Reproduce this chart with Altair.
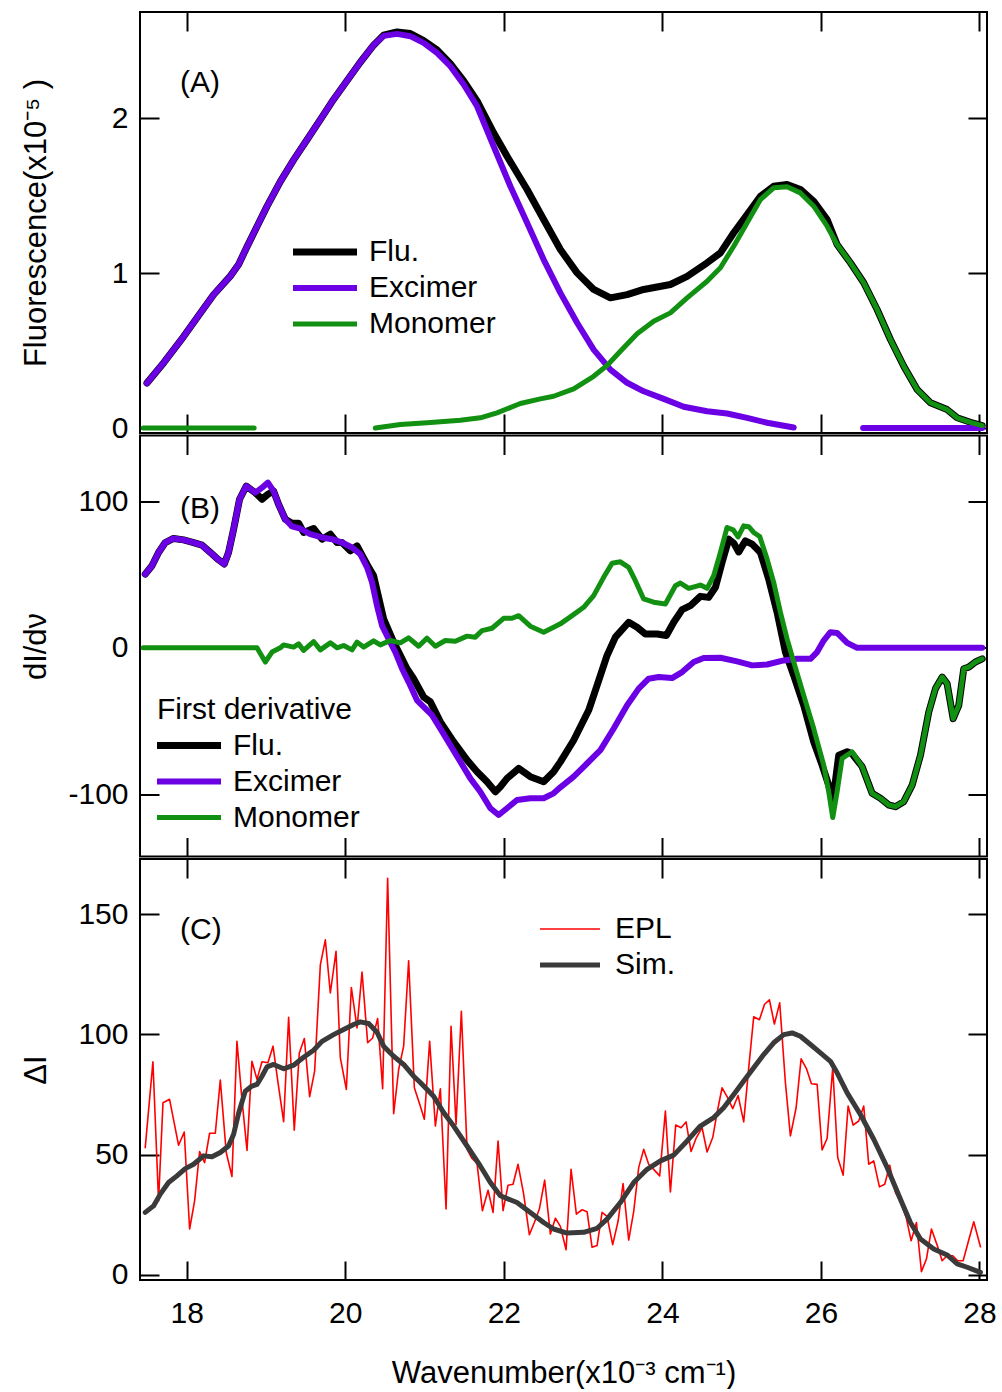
import altair as alt
import pandas as pd

FONT = "Liberation Sans"
X_TICKS = [18, 20, 22, 24, 26, 28]
X_DOMAIN = [17.41, 28.095]
PURPLE = "#6c00e4"
GREEN = "#119011"
SIM = "#3a3a3a"

# ---------------- Panel A : fluorescence ----------------
A_EXC_X = [17.498, 17.707, 17.960, 18.170, 18.338, 18.549, 18.654, 18.760, 18.886, 19.012, 19.180, 19.348,
           19.517, 19.685, 19.852, 20.021, 20.189, 20.357, 20.483, 20.652, 20.820, 20.988, 21.157, 21.325,
           21.493, 21.662, 21.871, 22.082, 22.293, 22.502, 22.713, 22.924, 23.133, 23.344, 23.555, 23.764,
           24.017, 24.269, 24.564, 24.816, 25.069, 25.321, 25.657]
A_EXC_Y = [0.29, 0.42, 0.59, 0.74, 0.86, 0.98, 1.055, 1.17, 1.30, 1.43, 1.59, 1.73,
           1.86, 1.99, 2.12, 2.24, 2.36, 2.47, 2.53, 2.543, 2.528, 2.485, 2.42, 2.334,
           2.216, 2.076, 1.818, 1.56, 1.324, 1.087, 0.872, 0.679, 0.506, 0.377, 0.292, 0.237,
           0.188, 0.137, 0.108, 0.094, 0.066, 0.034, 0.003]
A_EXC_TAIL_X = [26.532, 27.3, 28.034]
A_EXC_TAIL_Y = [0.0, 0.0, 0.0]

A_FLU_X = [17.498, 17.707, 17.960, 18.170, 18.338, 18.549, 18.654, 18.760, 18.886, 19.012, 19.180, 19.348,
           19.517, 19.685, 19.852, 20.021, 20.189, 20.357, 20.483, 20.652, 20.820, 20.988, 21.157, 21.325,
           21.493, 21.662, 21.871, 22.040, 22.293, 22.502, 22.713, 22.924, 23.133, 23.344, 23.555, 23.764,
           24.101, 24.312, 24.564, 24.732, 24.900, 25.069, 25.237, 25.404, 25.573, 25.741, 25.909, 26.078,
           26.204, 26.372, 26.540, 26.709, 26.877, 27.045, 27.214, 27.382, 27.592, 27.719, 27.886, 28.034]
A_FLU_Y = [0.29, 0.42, 0.59, 0.74, 0.86, 0.98, 1.055, 1.17, 1.30, 1.43, 1.59, 1.73,
           1.86, 1.99, 2.12, 2.24, 2.36, 2.47, 2.535, 2.555, 2.545, 2.50, 2.44, 2.35,
           2.24, 2.11, 1.905, 1.754, 1.539, 1.345, 1.152, 1.001, 0.894, 0.840, 0.861, 0.894,
           0.926, 0.979, 1.066, 1.130, 1.260, 1.377, 1.495, 1.560, 1.571, 1.539, 1.463, 1.345,
           1.184, 1.066, 0.937, 0.765, 0.571, 0.399, 0.248, 0.163, 0.119, 0.066, 0.037, 0.016]

A_MON_HEAD_X = [17.45, 18.2, 18.85]
A_MON_HEAD_Y = [0.0, 0.0, 0.0]
A_MON_X = [20.379, 20.694, 21.031, 21.451, 21.703, 21.914, 22.208, 22.461, 22.628, 22.881, 23.133, 23.302,
           23.470, 23.681, 23.890, 24.101, 24.312, 24.564, 24.732, 24.900, 25.069, 25.237, 25.404, 25.573,
           25.741, 25.909, 26.078, 26.204, 26.372, 26.540, 26.709, 26.877, 27.045, 27.214, 27.382, 27.592,
           27.719, 27.886, 28.034]
A_MON_Y = [0.0, 0.023, 0.034, 0.050, 0.066, 0.098, 0.158, 0.188, 0.205, 0.253, 0.334, 0.403,
           0.495, 0.608, 0.689, 0.743, 0.840, 0.947, 1.034, 1.173, 1.324, 1.474, 1.550, 1.556,
           1.517, 1.431, 1.302, 1.184, 1.066, 0.937, 0.765, 0.571, 0.399, 0.248, 0.163, 0.119,
           0.066, 0.037, 0.016]

# ---------------- Panel B : first derivative ----------------
B_EXC_X = [17.476, 17.561, 17.644, 17.729, 17.833, 17.960, 18.086, 18.192, 18.297, 18.401, 18.473, 18.527,
           18.591, 18.666, 18.751, 18.864, 18.949, 19.024, 19.095, 19.158, 19.243, 19.327, 19.432, 19.558,
           19.706, 19.832, 19.958, 20.085, 20.189, 20.274, 20.337, 20.400, 20.463, 20.546, 20.631, 20.716,
           20.799, 20.905, 20.988, 21.094, 21.199, 21.325, 21.451, 21.577, 21.703, 21.830, 21.934, 22.040,
           22.166, 22.334, 22.502, 22.628, 22.713, 22.881, 23.049, 23.218, 23.386, 23.555, 23.701, 23.827,
           23.953, 24.122, 24.249, 24.395, 24.521, 24.732, 24.942, 25.132, 25.321, 25.531, 25.700, 25.868,
           25.952, 26.035, 26.120, 26.204, 26.331, 26.457, 27.2, 28.034]
B_EXC_Y = [50.4, 56.1, 65.2, 72.0, 74.8, 73.8, 72.0, 70.2, 65.2, 60.2, 57.3, 65.2,
           81.1, 101.6, 110.6, 106.1, 109.5, 113.0, 107.2, 98.2, 87.9, 83.0, 81.6, 77.7,
           75.5, 74.3, 72.0, 68.6, 64.1, 55.0, 44.8, 28.8, 15.2, 6.1, -2.9, -14.3,
           -23.4, -35.9, -40.4, -46.1, -55.2, -66.6, -77.9, -89.3, -98.4, -109.7, -114.3, -109.7,
           -104.1, -102.9, -102.9, -99.5, -95.4, -88.1, -79.1, -70.0, -55.2, -39.3, -27.9, -21.1,
           -20.0, -20.7, -16.6, -9.7, -7.0, -6.8, -9.3, -12.0, -11.4, -8.6, -7.5, -7.5,
           -2.9, 5.0, 10.7, 10.2, 3.4, 0.0, 0.0, 0.0]

B_FLU_X = [17.476, 17.561, 17.644, 17.729, 17.833, 17.960, 18.086, 18.192, 18.297, 18.401, 18.473, 18.527,
           18.591, 18.666, 18.751, 18.864, 18.949, 19.024, 19.095, 19.158, 19.243, 19.327, 19.411, 19.474,
           19.600, 19.706, 19.811, 19.895, 19.958, 20.063, 20.148, 20.274, 20.357, 20.483, 20.610, 20.778,
           20.862, 20.988, 21.073, 21.199, 21.367, 21.536, 21.662, 21.788, 21.893, 21.956, 22.040, 22.187,
           22.334, 22.502, 22.628, 22.713, 22.881, 23.070, 23.176, 23.302, 23.407, 23.575, 23.681, 23.785,
           23.933, 24.050, 24.143, 24.249, 24.353, 24.479, 24.584, 24.669, 24.753, 24.837, 24.900, 24.963,
           25.047, 25.132, 25.237, 25.341, 25.447, 25.552, 25.657, 25.783, 25.909, 26.015, 26.098, 26.149,
           26.225, 26.331, 26.393, 26.520, 26.646, 26.751, 26.856, 26.940, 27.045, 27.151, 27.256, 27.361,
           27.445, 27.530, 27.592, 27.668, 27.739, 27.802, 27.865, 27.949, 28.034]
B_FLU_Y = [50.4, 56.1, 65.2, 72.0, 74.8, 73.8, 72.0, 70.2, 65.2, 60.2, 57.3, 65.2,
           81.1, 101.6, 110.6, 106.1, 101.6, 105.0, 107.2, 98.2, 87.9, 85.2, 85.2, 78.9,
           81.6, 74.3, 77.7, 72.0, 72.0, 66.3, 69.7, 57.0, 49.3, 19.8, 3.9, -14.3,
           -21.1, -33.6, -37.0, -50.6, -64.3, -76.8, -84.7, -91.6, -98.4, -95.0, -89.3, -82.5,
           -88.1, -91.6, -84.7, -78.0, -63.2, -42.7, -25.7, -5.2, 7.3, 17.5, 14.1, 9.5,
           9.5, 8.4, 17.5, 26.1, 28.8, 35.2, 34.5, 41.4, 58.4, 74.3, 71.6, 65.6,
           73.1, 70.9, 65.2, 47.0, 24.3, -2.9, -18.9, -39.3, -64.3, -80.2, -93.9, -105.2,
           -73.4, -71.1, -72.5, -81.3, -99.5, -102.9, -107.5, -108.6, -105.2, -93.9, -73.4, -43.8,
           -27.9, -20.0, -24.5, -48.4, -39.3, -14.3, -13.2, -9.7, -7.5]

B_MON_X = [17.45, 18.2, 18.886, 18.991, 19.075, 19.180, 19.222, 19.348, 19.411, 19.474, 19.600, 19.685,
           19.811, 19.895, 19.979, 20.085, 20.148, 20.231, 20.357, 20.442, 20.568, 20.694, 20.799, 20.925,
           21.031, 21.136, 21.262, 21.388, 21.536, 21.640, 21.725, 21.851, 21.997, 22.103, 22.187, 22.334,
           22.502, 22.628, 22.713, 22.861, 23.007, 23.133, 23.259, 23.365, 23.470, 23.575, 23.659, 23.764,
           23.890, 24.038, 24.164, 24.227, 24.332, 24.479, 24.564, 24.647, 24.732, 24.816, 24.892, 24.955,
           25.026, 25.089, 25.152, 25.228, 25.321, 25.404, 25.489, 25.573, 25.657, 25.783, 25.909, 26.035,
           26.098, 26.149, 26.204, 26.267, 26.393, 26.520, 26.646, 26.751, 26.856, 26.940, 27.045, 27.151,
           27.256, 27.361, 27.445, 27.530, 27.592, 27.668, 27.739, 27.802, 27.865, 27.949, 28.034]
B_MON_Y = [0.0, 0.0, 0.0, -9.7, -2.9, 0.0, 2.0, 0.5, 2.7, -1.8, 4.3, -1.4,
           3.4, 0.0, 1.6, -1.4, 3.9, 0.5, 4.8, 2.0, 5.0, 3.4, 6.8, 1.1,
           6.6, 1.1, 5.0, 4.5, 8.0, 7.3, 11.8, 13.4, 20.2, 20.2, 22.0, 14.8,
           10.7, 14.1, 16.4, 22.0, 27.7, 35.7, 48.2, 57.9, 58.8, 55.0, 45.9, 33.4,
           31.2, 30.0, 42.5, 44.3, 40.7, 42.9, 40.7, 49.3, 65.2, 82.3, 80.7, 75.9,
           83.4, 82.9, 78.9, 76.1, 60.7, 44.8, 24.3, 6.1, -9.7, -32.5, -55.2, -80.2,
           -98.4, -116.1, -98.4, -75.7, -71.1, -81.3, -99.5, -102.9, -107.5, -108.6, -105.2, -93.9,
           -73.4, -43.8, -27.9, -20.0, -24.5, -48.4, -39.3, -14.3, -13.2, -9.7, -7.5]

# ---------------- Panel C : EPL vs simulation ----------------
C_EPL_X = [17.476, 17.573, 17.644, 17.700, 17.783, 17.897, 17.968, 18.036, 18.099, 18.162, 18.225, 18.288,
           18.360, 18.423, 18.498, 18.570, 18.633, 18.696, 18.760, 18.822, 18.886, 18.949, 19.024, 19.088,
           19.151, 19.222, 19.285, 19.356, 19.420, 19.483, 19.550, 19.613, 19.685, 19.748, 19.811, 19.883,
           19.937, 20.013, 20.076, 20.148, 20.211, 20.282, 20.345, 20.408, 20.471, 20.534, 20.610, 20.673,
           20.736, 20.799, 20.871, 20.946, 20.997, 21.064, 21.136, 21.199, 21.271, 21.334, 21.397, 21.464,
           21.536, 21.599, 21.662, 21.729, 21.801, 21.864, 21.927, 21.990, 22.053, 22.116, 22.179, 22.250,
           22.322, 22.385, 22.448, 22.515, 22.587, 22.650, 22.713, 22.785, 22.848, 22.915, 22.987, 23.050,
           23.113, 23.176, 23.239, 23.302, 23.373, 23.441, 23.504, 23.575, 23.638, 23.701, 23.764, 23.827,
           23.890, 23.966, 24.038, 24.101, 24.168, 24.236, 24.299, 24.362, 24.429, 24.501, 24.564, 24.635,
           24.690, 24.753, 24.816, 24.887, 24.955, 25.026, 25.089, 25.152, 25.224, 25.287, 25.350, 25.413,
           25.480, 25.552, 25.615, 25.687, 25.750, 25.817, 25.880, 25.952, 26.015, 26.078, 26.149, 26.212,
           26.280, 26.343, 26.406, 26.477, 26.540, 26.603, 26.666, 26.738, 26.805, 26.868, 26.940, 27.003,
           27.075, 27.138, 27.205, 27.268, 27.331, 27.394, 27.466, 27.529, 27.592, 27.663, 27.726, 27.794,
           27.857, 27.928, 28.012]
C_EPL_Y = [52.9, 88.6, 30.8, 71.6, 73.0, 53.9, 59.4, 19.1, 30.8, 51.3, 46.7, 58.9,
           58.9, 81.0, 50.9, 40.9, 97.1, 73.0, 51.8, 88.8, 81.3, 88.6, 88.2, 95.1,
           79.9, 63.7, 107.1, 60.2, 92.3, 98.3, 74.1, 84.7, 128.9, 139.3, 117.2, 134.5,
           90.3, 77.1, 119.5, 102.7, 125.9, 96.5, 98.5, 106.6, 77.4, 164.9, 67.0, 85.4,
           95.1, 130.6, 77.8, 70.2, 64.7, 97.1, 61.9, 77.4, 27.4, 103.4, 62.6, 109.6,
           52.2, 48.4, 46.4, 26.7, 35.2, 26.0, 55.7, 26.7, 37.3, 37.7, 46.0, 33.6,
           16.7, 21.8, 27.4, 39.4, 17.0, 23.6, 20.2, 10.5, 43.9, 25.3, 27.1, 26.3,
           11.5, 12.2, 26.0, 24.3, 12.6, 22.3, 38.0, 14.5, 26.3, 44.6, 52.2, 46.0,
           43.9, 41.2, 68.1, 34.5, 62.3, 61.2, 63.6, 51.3, 57.1, 61.2, 51.1, 57.1,
           67.5, 77.8, 74.1, 69.1, 74.6, 63.6, 86.1, 107.3, 106.1, 112.4, 114.4, 104.3,
           113.1, 79.9, 57.8, 69.5, 89.8, 85.8, 79.5, 79.2, 52.0, 56.7, 86.1, 48.8,
           41.5, 70.2, 62.3, 64.0, 70.2, 46.0, 47.4, 36.6, 37.7, 45.6, 34.3, 30.4,
           23.9, 14.2, 21.8, 1.4, 6.6, 19.1, 12.4, 5.9, 8.0, 8.0, 5.9, 5.9,
           13.6, 22.1, 11.7]

C_SIM_X = [17.476, 17.581, 17.666, 17.770, 17.876, 17.981, 18.086, 18.212, 18.318, 18.423, 18.527, 18.591,
           18.654, 18.738, 18.822, 18.886, 18.949, 19.012, 19.095, 19.222, 19.348, 19.474, 19.600, 19.706,
           19.852, 19.979, 20.105, 20.189, 20.294, 20.400, 20.483, 20.610, 20.736, 20.862, 20.946, 21.114,
           21.240, 21.367, 21.536, 21.703, 21.830, 21.956, 22.166, 22.334, 22.502, 22.628, 22.797, 23.007,
           23.176, 23.302, 23.470, 23.638, 23.807, 23.975, 24.143, 24.312, 24.479, 24.647, 24.773, 24.900,
           25.026, 25.152, 25.278, 25.404, 25.531, 25.636, 25.741, 25.868, 25.994, 26.120, 26.204, 26.331,
           26.498, 26.666, 26.835, 27.003, 27.129, 27.256, 27.423, 27.592, 27.719, 27.845, 28.012]
C_SIM_Y = [26.0, 28.7, 33.6, 38.4, 41.2, 44.2, 46.0, 49.5, 49.1, 50.9, 53.6, 58.5,
           67.2, 76.4, 78.5, 79.2, 82.6, 86.5, 87.5, 85.7, 87.2, 90.5, 93.4, 97.1,
           99.9, 102.0, 104.1, 105.2, 104.5, 100.9, 95.1, 90.9, 87.5, 82.6, 80.0, 74.3,
           67.5, 61.9, 53.6, 45.3, 38.4, 32.9, 30.1, 26.0, 21.8, 19.1, 17.4, 17.7,
           19.4, 23.2, 30.1, 38.4, 43.9, 47.4, 49.8, 55.7, 61.9, 65.4, 69.5, 75.0,
           80.6, 86.1, 91.6, 96.5, 99.9, 100.6, 99.2, 95.8, 92.3, 88.8, 84.0, 75.7,
           66.7, 56.4, 44.7, 31.5, 21.8, 14.9, 10.8, 8.3, 4.6, 3.2, 1.1]

SERIES_AB = ["Flu.", "Excimer", "Monomer"]
COLORS_AB = ["black", PURPLE, GREEN]
WIDTHS_AB = [7, 5, 1.5]
SERIES_C = ["EPL", "Sim."]
COLORS_C = ["#ff0000", SIM]
WIDTHS_C = [1.6, 5]

W, H = 847, 421


def df(parts, name):
    frames = []
    for i, (xs, ys) in enumerate(parts):
        frames.append(pd.DataFrame({"x": xs, "y": ys, "series": name, "seg": i}))
    return pd.concat(frames, ignore_index=True)


def ax_bottom(labels, title=None):
    kw = dict(orient="bottom", values=X_TICKS, offset=-19, tickSize=19, tickWidth=2,
              tickColor="black", domain=False, grid=False, labels=labels)
    if labels:
        kw.update(labelFontSize=30, labelPadding=18, labelColor="black", labelFont=FONT)
    if title:
        kw.update(title=title, titleFontSize=31, titleFontWeight="normal", titlePadding=30,
                  titleFont=FONT, titleColor="black")
    else:
        kw["title"] = None
    return alt.Axis(**kw)


def ax_top():
    return alt.Axis(orient="top", values=X_TICKS, offset=-19, tickSize=19, tickWidth=2,
                    tickColor="black", domain=False, grid=False, labels=False, title=None)


def ax_left(values, title):
    return alt.Axis(orient="left", values=values, offset=-19, tickSize=19, tickWidth=2,
                    tickColor="black", domain=False, grid=False, labelFontSize=30,
                    labelPadding=12, labelColor="black", labelFont=FONT,
                    labelExpr="'' + datum.value",
                    title=title, titleFontSize=31, titleFontWeight="normal", titleFont=FONT,
                    titleColor="black", titleX=-114, titleBaseline="alphabetic")


def ax_right(values):
    return alt.Axis(orient="right", values=values, offset=-19, tickSize=19, tickWidth=2,
                    tickColor="black", domain=False, grid=False, labels=False, title=None)


def make_legend(lx, ly, title=None, sym=64, lab_off=29):
    s = sym / 8.0
    kw = dict(orient="none", legendX=lx, legendY=ly, symbolType="M-4,0H4", symbolSize=s * s * 4,
              symbolOffset=sym / 2 - 15, labelOffset=lab_off, labelFontSize=30,
              labelFont=FONT, labelColor="black", rowPadding=6, padding=0, labelLimit=400)
    if title:
        kw.update(title=title, titleFontSize=30, titleFontWeight="normal", titleFont=FONT,
                  titleColor="black", titlePadding=6, titleLimit=500)
    else:
        kw["title"] = None
    return alt.Legend(**kw)


def panel(layers, series, colors, widths, xb_axis, y_vals, y_dom, y_title, legend, tag, tag_y=71):
    color_scale = alt.Scale(domain=series, range=colors)
    width_scale = alt.Scale(domain=series, range=widths)
    xs = alt.Scale(domain=X_DOMAIN, nice=False, zero=False)
    ys = alt.Scale(domain=y_dom, nice=False, zero=False)
    charts = []
    for i, d in enumerate(layers):
        if i == 0:
            xa, ya = xb_axis, ax_left(y_vals, y_title)
        elif i == 1:
            xa, ya = ax_top(), ax_right(y_vals)
        else:
            xa, ya = None, None
        c = alt.Chart(d).mark_line(strokeCap="round", strokeJoin="round").encode(
            x=alt.X("x:Q", scale=xs, axis=xa),
            y=alt.Y("y:Q", scale=ys, axis=ya),
            color=alt.Color("series:N", scale=color_scale, legend=legend),
            strokeWidth=alt.StrokeWidth("series:N", scale=width_scale, legend=legend),
            detail="seg:N",
        )
        charts.append(c)
    txt = alt.Chart(pd.DataFrame({"t": [tag]})).mark_text(
        align="left", baseline="middle", fontSize=30, font=FONT, color="black"
    ).encode(x=alt.value(40), y=alt.value(tag_y), text="t:N")
    charts.append(txt)
    return alt.layer(*charts).resolve_axis(x="independent", y="independent").properties(
        width=W, height=H, view=alt.ViewBackground(stroke="black", strokeWidth=2))


pA = panel(
    [df([(A_FLU_X, A_FLU_Y)], "Flu."),
     df([(A_EXC_X, A_EXC_Y), (A_EXC_TAIL_X, A_EXC_TAIL_Y)], "Excimer"),
     df([(A_MON_HEAD_X, A_MON_HEAD_Y), (A_MON_X, A_MON_Y)], "Monomer")],
    SERIES_AB, COLORS_AB, WIDTHS_AB, ax_bottom(False), [0, 1, 2], [-0.032, 2.684],
    "Fluorescence(x10⁻⁵ )", make_legend(153, 225), "(A)")

pB = panel(
    [df([(B_FLU_X, B_FLU_Y)], "Flu."),
     df([(B_EXC_X, B_EXC_Y)], "Excimer"),
     df([(B_MON_X, B_MON_Y)], "Monomer")],
    SERIES_AB, COLORS_AB, WIDTHS_AB, ax_bottom(False), [-100, 0, 100], [-142.7, 145.2],
    "dI/dν", make_legend(17, 259, title="First derivative"), "(B)", tag_y=73)

pC = panel(
    [df([(C_EPL_X, C_EPL_Y)], "EPL"),
     df([(C_SIM_X, C_SIM_Y)], "Sim.")],
    SERIES_C, COLORS_C, WIDTHS_C, ax_bottom(True, "Wavenumber(x10⁻³  cm⁻¹)"), [0, 50, 100, 150],
    [-2.1, 172.9], "ΔI", make_legend(400, 55, sym=60, lab_off=30), "(C)")

chart = alt.vconcat(pA, pB, pC, spacing=2.5, bounds="flush").resolve_scale(
    color="independent", strokeWidth="independent"
).properties(
    padding={"left": 18, "top": 10, "right": 0, "bottom": 0},
    background="white",
).configure_view(stroke="black", strokeWidth=2)

chart.save("out.html", embed_options={"renderer": "svg", "actions": False})
